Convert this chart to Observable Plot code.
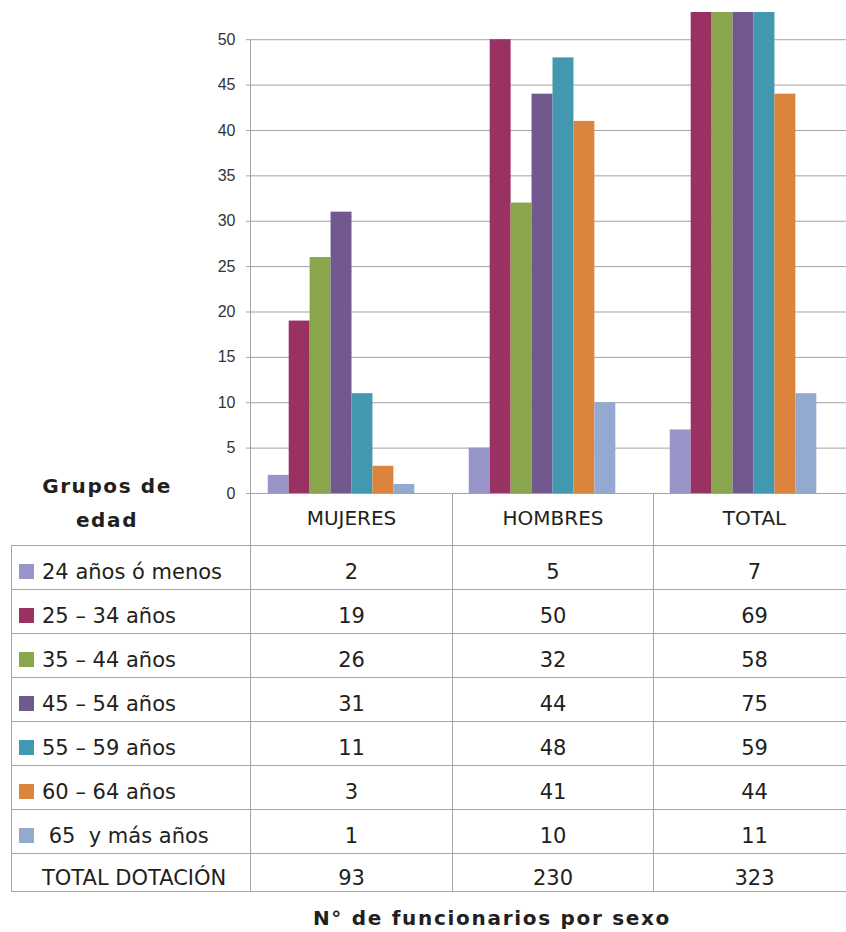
<!DOCTYPE html>
<html>
<head>
<meta charset="utf-8">
<script src="https://cdn.jsdelivr.net/npm/d3@7"></script>
<script src="https://cdn.jsdelivr.net/npm/@observablehq/plot@0.6"></script>
<style>
  html, body { margin: 0; padding: 0; background: #fff; }
  #wrap { position: relative; width: 846px; height: 932px; overflow: hidden; background: #fff; }
  #chart { position: absolute; left: 0; top: 0; width: 855px; }
  #chart svg { max-width: none !important; overflow: visible; }
  #tbl { position: absolute; left: 11px; top: 493px; border-collapse: collapse; table-layout: fixed; width: 844px;
         font-family: "DejaVu Sans", sans-serif; font-size: 21px; color: #231f20; }
  #tbl td { border: 1px solid #a6a6a6; padding: 9px 0 0 0; text-align: center; vertical-align: middle; white-space: pre; overflow: hidden; }
  #tbl tr.row { height: 44px; }
  #tbl tr.hdr { height: 52px; }
  #tbl tr.hdr td { border-top: none; padding: 0 0 2px 0; font-size: 20px; }
  #tbl tr.hdr td.first { border-left: none; }
  #tbl tr.last { height: 38px; }
  #tbl tr.last td { padding-top: 11px; }
  #tbl td.lab { text-align: left; padding-left: 7px; }
  #tbl tr.last td.lab { padding-left: 30px; }
  .sw { display: inline-block; width: 15px; height: 15px; margin-right: 8px; vertical-align: baseline; }
  #grupos { position: absolute; left: 7px; width: 200px; top: 469px; text-align: center; font-family: "DejaVu Sans", sans-serif;
            font-weight: bold; font-size: 20px; line-height: 34px; letter-spacing: 1.6px; color: #231f20; }
  #title { position: absolute; left: 292px; width: 400px; top: 906px; text-align: center; font-family: "DejaVu Sans", sans-serif;
           font-weight: bold; font-size: 20px; line-height: 24px; letter-spacing: 1.7px; color: #231f20; white-space: nowrap; }
</style>
</head>
<body>
<div id="wrap">
  <div id="chart"></div>
  <table id="tbl"></table>
  <div id="grupos">Grupos de<br>edad</div>
  <div id="title">N° de funcionarios por sexo</div>
</div>
<script>
// ---- data ----
const groups = ["MUJERES", "HOMBRES", "TOTAL"];
const series = ["24 años ó menos", "25 – 34 años", "35 – 44 años", "45 – 54 años", "55 – 59 años", "60 – 64 años", " 65  y más años"];
const colors = ["#9896c8", "#993162", "#8aa64c", "#71588f", "#4198af", "#db843d", "#93a9cf"];
const mujeres = [2, 19, 26, 31, 11, 3, 1];
const hombres = [5, 50, 32, 44, 48, 41, 10];
const total = [7, 69, 58, 75, 59, 44, 11];
const totalRowLabel = "TOTAL DOTACIÓN";
const totalDotacion = [93, 230, 323];
const yTicks = [0, 5, 10, 15, 20, 25, 30, 35, 40, 45, 50];

const byGroup = [mujeres, hombres, total];
const data = [];
groups.forEach((g, gi) => series.forEach((s, si) => data.push({group: g, serie: s, value: byGroup[gi][si]})));

// ---- chart ----
const chart = Plot.plot({
  width: 855,
  height: 510,
  marginLeft: 250,
  marginRight: 0,
  marginTop: 12,
  marginBottom: 17,
  style: {background: "transparent", maxWidth: "none", overflow: "visible"},
  fx: {domain: groups, padding: 0, axis: null},
  x: {domain: [...series, totalRowLabel], paddingInner: 0, paddingOuter: 0.8, round: false, axis: null},
  y: {domain: [0, 53], axis: null},
  color: {domain: series, range: colors},
  marks: [
    Plot.gridY(yTicks.filter(d => d > 0), {stroke: "#a3a3a3", strokeOpacity: 1}),
    Plot.barY(data, {fx: "group", x: "serie", y: "value", fill: "serie", inset: 0, clip: true}),
    Plot.ruleY([0], {stroke: "#a3a3a3", strokeOpacity: 1}),
    Plot.axisY(yTicks, {anchor: "left", label: null, tickSize: 5, tickPadding: 11, stroke: "#a3a3a3", fill: "#333",
      fontSize: 16, fontFamily: "Liberation Sans, Arial, sans-serif"})
  ]
});
document.getElementById("chart").appendChild(chart);

// vertical axis line from 0 to the top tick, positioned through the y scale
const ys = chart.scale("y");
d3.select(chart).append("line")
  .attr("x1", 250.5).attr("x2", 250.5)
  .attr("y1", ys.apply(d3.max(yTicks))).attr("y2", ys.apply(0))
  .attr("stroke", "#a3a3a3");

// ---- table ----
const tbl = d3.select("#tbl");
const cg = tbl.append("colgroup");
[239, 202, 201, 202].forEach(w => cg.append("col").style("width", w + "px"));
const hdr = tbl.append("tr").attr("class", "hdr");
hdr.append("td").attr("class", "first");
groups.forEach(g => hdr.append("td").text(g));
series.forEach((s, si) => {
  const tr = tbl.append("tr").attr("class", "row");
  const td = tr.append("td").attr("class", "lab");
  td.append("span").attr("class", "sw").style("background", colors[si]);
  td.append("span").text(s);
  byGroup.forEach(arr => tr.append("td").text(arr[si]));
});
const lr = tbl.append("tr").attr("class", "last");
lr.append("td").attr("class", "lab").text(totalRowLabel);
totalDotacion.forEach(v => lr.append("td").text(v));
</script>
</body>
</html>
